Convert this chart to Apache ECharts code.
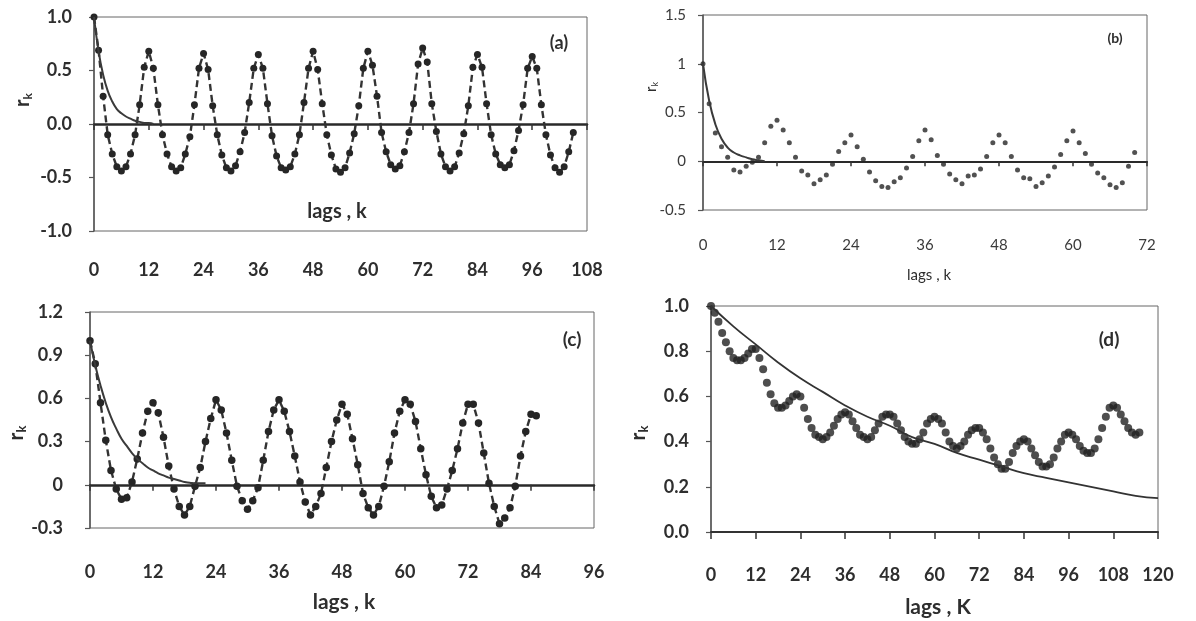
<!DOCTYPE html>
<html>
<head>
<meta charset="utf-8">
<script src="https://cdn.jsdelivr.net/npm/echarts@6/dist/echarts.min.js"></script>
<style>
  html, body { margin: 0; padding: 0; background: #fff; }
  #chart { width: 1196px; height: 621px; }
</style>
</head>
<body>
<div id="chart"></div>
<script>
// ---- Sample autocorrelation r_k of four series (a)-(d), with fitted decay curves ----

// (a) lags 0..105
const acfA = [1.00, 0.69, 0.26, -0.10, -0.28, -0.40, -0.44, -0.40, -0.28, -0.10, 0.18, 0.53,
  0.68, 0.52, 0.18, -0.10, -0.28, -0.40, -0.44, -0.41, -0.28, -0.12, 0.18, 0.52,
  0.66, 0.51, 0.17, -0.10, -0.29, -0.41, -0.44, -0.39, -0.26, -0.08, 0.20, 0.52,
  0.65, 0.52, 0.19, -0.11, -0.30, -0.41, -0.43, -0.40, -0.28, -0.10, 0.20, 0.52,
  0.68, 0.51, 0.19, -0.10, -0.29, -0.42, -0.45, -0.41, -0.27, -0.09, 0.17, 0.52,
  0.68, 0.55, 0.26, -0.08, -0.26, -0.38, -0.42, -0.39, -0.26, -0.08, 0.19, 0.56,
  0.71, 0.58, 0.19, -0.07, -0.28, -0.40, -0.44, -0.40, -0.27, -0.09, 0.17, 0.53,
  0.65, 0.53, 0.19, -0.10, -0.28, -0.38, -0.41, -0.38, -0.25, -0.06, 0.18, 0.52,
  0.63, 0.52, 0.18, -0.10, -0.29, -0.41, -0.45, -0.40, -0.26, -0.08];
const fitA = [1.00, 0.68, 0.46, 0.31, 0.21, 0.14, 0.10, 0.07, 0.05, 0.03, 0.02, 0.01, 0.01, 0.00];

// (b) lags 0..70
const acfB = [1.00, 0.59, 0.29, 0.15, 0.04, -0.09, -0.11, -0.05, -0.01, 0.04, 0.19, 0.36,
  0.42, 0.32, 0.19, 0.04, -0.10, -0.14, -0.23, -0.19, -0.14, -0.03, 0.10, 0.19,
  0.27, 0.15, 0.02, -0.11, -0.20, -0.26, -0.27, -0.21, -0.17, -0.07, 0.05, 0.21,
  0.32, 0.22, 0.06, -0.03, -0.13, -0.19, -0.23, -0.15, -0.14, -0.08, 0.05, 0.19,
  0.27, 0.19, 0.05, -0.09, -0.17, -0.18, -0.26, -0.22, -0.15, -0.06, 0.07, 0.21,
  0.31, 0.19, 0.08, -0.03, -0.12, -0.17, -0.24, -0.27, -0.22, -0.05, 0.09];
const fitB = [1.00, 0.62, 0.38, 0.23, 0.14, 0.09, 0.06, 0.04, 0.02, 0.01, 0.00];

// (c) lags 0..85
const acfC = [1.00, 0.84, 0.57, 0.31, 0.10, -0.03, -0.10, -0.09, 0.02, 0.18, 0.36, 0.51,
  0.57, 0.50, 0.33, 0.13, -0.03, -0.15, -0.21, -0.15, -0.01, 0.12, 0.30, 0.46,
  0.59, 0.52, 0.36, 0.17, -0.01, -0.11, -0.17, -0.11, -0.02, 0.17, 0.37, 0.52,
  0.59, 0.51, 0.37, 0.20, 0.02, -0.12, -0.21, -0.15, -0.06, 0.12, 0.30, 0.45,
  0.56, 0.49, 0.32, 0.14, -0.06, -0.16, -0.21, -0.15, -0.01, 0.16, 0.36, 0.51,
  0.59, 0.56, 0.44, 0.25, 0.07, -0.08, -0.16, -0.14, -0.03, 0.10, 0.25, 0.43,
  0.56, 0.56, 0.43, 0.22, 0.01, -0.15, -0.27, -0.23, -0.16, -0.01, 0.20, 0.37,
  0.49, 0.48];
const fitC = [1.00, 0.83, 0.69, 0.57, 0.47, 0.39, 0.32, 0.27, 0.22, 0.18, 0.15, 0.12,
  0.10, 0.08, 0.065, 0.05, 0.04, 0.03, 0.02, 0.015, 0.01, 0.01, 0.01];

// (d) lags 0..115
const acfD = [1.00, 0.97, 0.93, 0.88, 0.84, 0.80, 0.77, 0.76, 0.76, 0.77, 0.79, 0.81,
  0.81, 0.77, 0.72, 0.66, 0.61, 0.57, 0.55, 0.55, 0.56, 0.58, 0.60, 0.61,
  0.60, 0.55, 0.50, 0.46, 0.43, 0.42, 0.41, 0.42, 0.44, 0.47, 0.50, 0.52,
  0.53, 0.52, 0.49, 0.46, 0.43, 0.42, 0.41, 0.42, 0.45, 0.48, 0.51, 0.52,
  0.52, 0.51, 0.48, 0.45, 0.42, 0.40, 0.39, 0.39, 0.41, 0.44, 0.48, 0.50,
  0.51, 0.50, 0.48, 0.44, 0.40, 0.38, 0.37, 0.38, 0.40, 0.43, 0.45, 0.46,
  0.46, 0.44, 0.41, 0.37, 0.33, 0.30, 0.28, 0.28, 0.31, 0.35, 0.38, 0.40,
  0.41, 0.40, 0.37, 0.34, 0.31, 0.29, 0.29, 0.30, 0.33, 0.37, 0.40, 0.43,
  0.44, 0.43, 0.41, 0.38, 0.36, 0.35, 0.35, 0.37, 0.41, 0.46, 0.51, 0.55,
  0.56, 0.55, 0.52, 0.49, 0.46, 0.44, 0.43, 0.44];
const fitDLags = [0, 6, 12, 18, 24, 30, 36, 42, 48, 54, 60, 66, 72, 78, 84, 90, 96, 102, 108, 114, 120];
const fitD = [1.00, 0.91, 0.83, 0.75, 0.68, 0.62, 0.56, 0.51, 0.47, 0.42, 0.39, 0.35,
  0.32, 0.29, 0.26, 0.24, 0.22, 0.20, 0.18, 0.16, 0.15];

// axis ranges and panel tags
const xMaxes = [108, 72, 96, 120];
const yRanges = [[-1, 1, 0.5], [-0.5, 1.5, 0.5], [-0.3, 1.2, 0.3], [0, 1, 0.2]];
const panelTags = ['(a)', '(b)', '(c)', '(d)'];
const xTitles = ['lags , k', 'lags , k', 'lags , k', 'lags , K'];

const byLag = (vals) => vals.map((v, i) => [i, v]);
const withLags = (lags, vals) => vals.map((v, i) => [lags[i], v]);

const FONT = 'Lato, "Open Sans", sans-serif';
const INK = '#2e2e2e';
const DOT = '#262626';

const grids = [
  { left: 94, top: 17, width: 493, height: 214 },
  { left: 703, top: 15, width: 444, height: 195 },
  { left: 90, top: 312, width: 504, height: 216 },
  { left: 711, top: 306, width: 447, height: 226 }
].map(g => Object.assign(g, { show: true, borderColor: '#666', borderWidth: 1, backgroundColor: 'transparent' }));

const bigLab = { fontFamily: FONT, fontWeight: 'bold', fontSize: 18, color: INK };
const smallLab = { fontFamily: FONT, fontWeight: 'normal', fontSize: 15, color: '#3a3a3a' };
const labStyles = [bigLab, smallLab, bigLab, bigLab];
const xMargins = [30, 28, 35, 34];
const yMargins = [22, 17, 27, 22];

const xAxes = [];
const yAxes = [];
for (let p = 0; p < 4; p++) {
  // labelled axis at the bottom of the frame
  xAxes.push({
    type: 'value', gridIndex: p, min: 0, max: xMaxes[p], interval: 12,
    position: 'bottom',
    axisLine: { show: p === 3, onZero: false, lineStyle: { color: '#333', width: 2 } },
    axisTick: { show: p === 3, length: 7, lineStyle: { color: '#333', width: 1.5 } },
    splitLine: { show: false },
    axisLabel: Object.assign({ margin: xMargins[p] }, labStyles[p])
  });
  yAxes.push({
    type: 'value', gridIndex: p, min: yRanges[p][0], max: yRanges[p][1], interval: yRanges[p][2],
    axisLine: { show: true, onZero: false, lineStyle: { color: '#555', width: 1.5 } },
    axisTick: { show: true, length: 5, lineStyle: { color: '#555', width: 1.2 } },
    splitLine: { show: false },
    axisLabel: Object.assign({
      margin: yMargins[p],
      formatter: (p === 0 || p === 3) ? (v) => v.toFixed(1) : (v) => String(+v.toFixed(2))
    }, labStyles[p])
  });
}
// zero lines with downward ticks for panels (a)-(c)
for (let p = 0; p < 3; p++) {
  xAxes.push({
    type: 'value', gridIndex: p, min: 0, max: xMaxes[p], interval: 12,
    position: 'bottom',
    axisLine: { show: true, onZero: true, lineStyle: { color: '#2a2a2a', width: p === 1 ? 2 : 2.5 } },
    axisTick: { show: true, length: p === 1 ? 5 : 6, lineStyle: { color: '#333', width: 1.5 } },
    splitLine: { show: false },
    axisLabel: { show: false }
  });
}

const dashed = { type: [7, 4], width: 2.4, color: '#333' };
const curve = { width: 2, color: '#3a3a3a' };

const series = [
  { type: 'line', xAxisIndex: 0, yAxisIndex: 0, data: byLag(acfA), lineStyle: dashed,
    symbol: 'circle', symbolSize: 7, itemStyle: { color: DOT }, z: 3 },
  { type: 'line', xAxisIndex: 0, yAxisIndex: 0, data: byLag(fitA), smooth: true,
    showSymbol: false, lineStyle: curve, z: 4 },

  { type: 'scatter', xAxisIndex: 1, yAxisIndex: 1, data: byLag(acfB),
    symbol: 'circle', symbolSize: 5, itemStyle: { color: DOT }, z: 3 },
  { type: 'line', xAxisIndex: 1, yAxisIndex: 1, data: byLag(fitB), smooth: true,
    showSymbol: false, lineStyle: curve, z: 4 },

  { type: 'line', xAxisIndex: 2, yAxisIndex: 2, data: byLag(acfC), lineStyle: dashed,
    symbol: 'circle', symbolSize: 7.5, itemStyle: { color: DOT }, z: 3 },
  { type: 'line', xAxisIndex: 2, yAxisIndex: 2, data: byLag(fitC), smooth: true,
    showSymbol: false, lineStyle: curve, z: 4 },

  { type: 'scatter', xAxisIndex: 3, yAxisIndex: 3, data: byLag(acfD),
    symbol: 'circle', symbolSize: 8, itemStyle: { color: '#222' }, z: 3 },
  { type: 'line', xAxisIndex: 3, yAxisIndex: 3, data: withLags(fitDLags, fitD), smooth: true,
    showSymbol: false, lineStyle: { width: 1.8, color: '#333' }, z: 4 }
];

// panel tags, x titles and rotated r_k titles
const tagPos = [[559, 43, 18], [1115, 38, 14], [572, 340, 19], [1109, 340, 19]];
const xTitlePos = [[337, 212, 20], [929, 275, 15], [344, 602, 21], [938, 607, 21]];
const rkPos = [[23, 100, 20], [651, 87, 15], [16, 433, 21], [638, 433, 21]];
const graphics = [];
for (let p = 0; p < 4; p++) {
  const bold = p === 1 ? 'normal' : 'bold';
  graphics.push({
    type: 'text', x: tagPos[p][0], y: tagPos[p][1], z: 10,
    style: { text: panelTags[p], fill: INK, font: `bold ${tagPos[p][2]}px ${FONT}`,
      textAlign: 'center', textVerticalAlign: 'middle' }
  });
  graphics.push({
    type: 'text', x: xTitlePos[p][0], y: xTitlePos[p][1], z: 10,
    style: { text: xTitles[p], fill: INK, font: `${bold} ${xTitlePos[p][2]}px ${FONT}`,
      textAlign: 'center', textVerticalAlign: 'middle' }
  });
  const fs = rkPos[p][2];
  graphics.push({
    type: 'text', x: rkPos[p][0], y: rkPos[p][1], rotation: Math.PI / 2, z: 10,
    style: {
      text: '{r|r}{k|k}', textAlign: 'center', textVerticalAlign: 'middle',
      rich: {
        r: { fontSize: fs, fontWeight: bold, fontFamily: FONT, fill: INK },
        k: { fontSize: Math.round(fs * 0.62), fontWeight: bold, fontFamily: FONT, fill: INK,
             padding: [Math.round(fs * 0.5), 0, 0, 0] }
      }
    }
  });
}

const chart = echarts.init(document.getElementById('chart'), null, { renderer: 'canvas' });
chart.setOption({
  animation: false,
  backgroundColor: '#ffffff',
  grid: grids,
  xAxis: xAxes,
  yAxis: yAxes,
  series: series,
  graphic: graphics
});
</script>
</body>
</html>
